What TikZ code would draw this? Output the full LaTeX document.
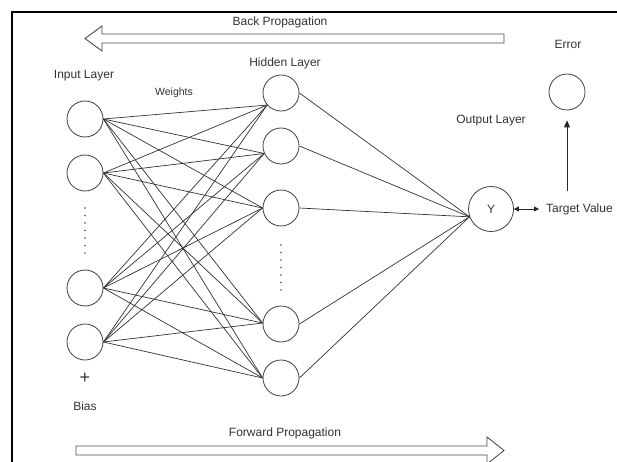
\documentclass[tikz,border=0pt]{standalone}
\usepackage{fontspec}
\setmainfont{Liberation Sans}
\usetikzlibrary{arrows.meta}
\begin{document}
\begin{tikzpicture}[x=1pt,y=-1pt,
  neuron/.style={circle, draw=black!75, line width=0.8pt, minimum size=36pt, inner sep=0pt, fill=white},
  lbl/.style={text=black!80, font=\fontsize{12}{14}\selectfont, inner sep=0pt},
  wire/.style={draw=black!80, line width=0.7pt},
  bigarrow/.style={draw=black!70, line width=0.9pt, fill=white, line join=miter},
  dotmark/.style={fill=black!70},
  ptr/.style={draw=black!85, line width=0.8pt},
]
\useasboundingbox (0,0) rectangle (617,462);
\clip (0,0) rectangle (617,462);
\fill[white] (0,0) rectangle (617,462);
% frame
\draw[line width=1.5pt, black] (12,462) -- (12,12) -- (617,12);

% big arrows
\draw[bigarrow] (504,34) -- (102,34) -- (102,26) -- (85,38.5) -- (102,51) -- (102,43) -- (504,43) -- cycle;
\draw[bigarrow] (76,446) -- (487,446) -- (487,437) -- (504,450.5) -- (487,464) -- (487,455) -- (76,455) -- cycle;

% neurons
\node[neuron] (i1) at (85,119) {};
\node[neuron] (i2) at (85,173) {};
\node[neuron] (i3) at (85,288) {};
\node[neuron] (i4) at (85,342) {};
\node[neuron] (h1) at (281,93) {};
\node[neuron] (h2) at (281,146) {};
\node[neuron] (h3) at (281,208) {};
\node[neuron] (h4) at (281,324) {};
\node[neuron] (h5) at (281,378) {};
\node[neuron, minimum size=45pt, text=black!80, font=\fontsize{12}{14}\selectfont] (y) at (491,209) {Y};
\node[neuron] (err) at (567,92) {};

% weights
\foreach \h/\a in {h1/221, h2/204, h3/180, h4/177, h5/180}
  \foreach \i in {i1,i2,i3,i4}
    \draw[wire] (\i.east) -- (\h.\a);
\foreach \h in {h1,h2,h3,h4,h5}
  \draw[wire] (\h.east) -- (y.200);

% dots
\foreach \k in {0,...,6} {
  \fill[dotmark] (85,208+7.5*\k) circle (0.9);
  \fill[dotmark] (281,245+7.5*\k) circle (0.9);
}

% labels
\node[lbl] (bp) at (280,22) {Back Propagation};
\node[lbl] (fp) at (285,433) {Forward Propagation};
\node[lbl] (il) at (84,76) {Input Layer};
\node[lbl, font=\fontsize{10.5}{12}\selectfont] (wl) at (174,93) {Weights};
\node[lbl] (hl) at (285,63) {Hidden Layer};
\node[lbl] (ol) at (491,121) {Output Layer};
\node[lbl] (el) at (568,44) {Error};
\node[lbl, anchor=west] (tv) at (546,209) {Target Value};
\node[lbl, font=\fontsize{18}{20}\selectfont] (plus) at (85,378) {+};
\node[lbl] (bias) at (85,406) {Bias};

% target / error arrows
\draw[ptr, {Triangle[length=5pt,width=5pt]}-{Triangle[length=5pt,width=5pt]}] (y.east) -- ([xshift=-7pt]tv.west);
\coordinate (ua) at (567,191);
\draw[ptr, -{Triangle[length=7pt,width=6pt]}] (ua) -- ([yshift=-10pt]err.south);
\end{tikzpicture}
\end{document}
